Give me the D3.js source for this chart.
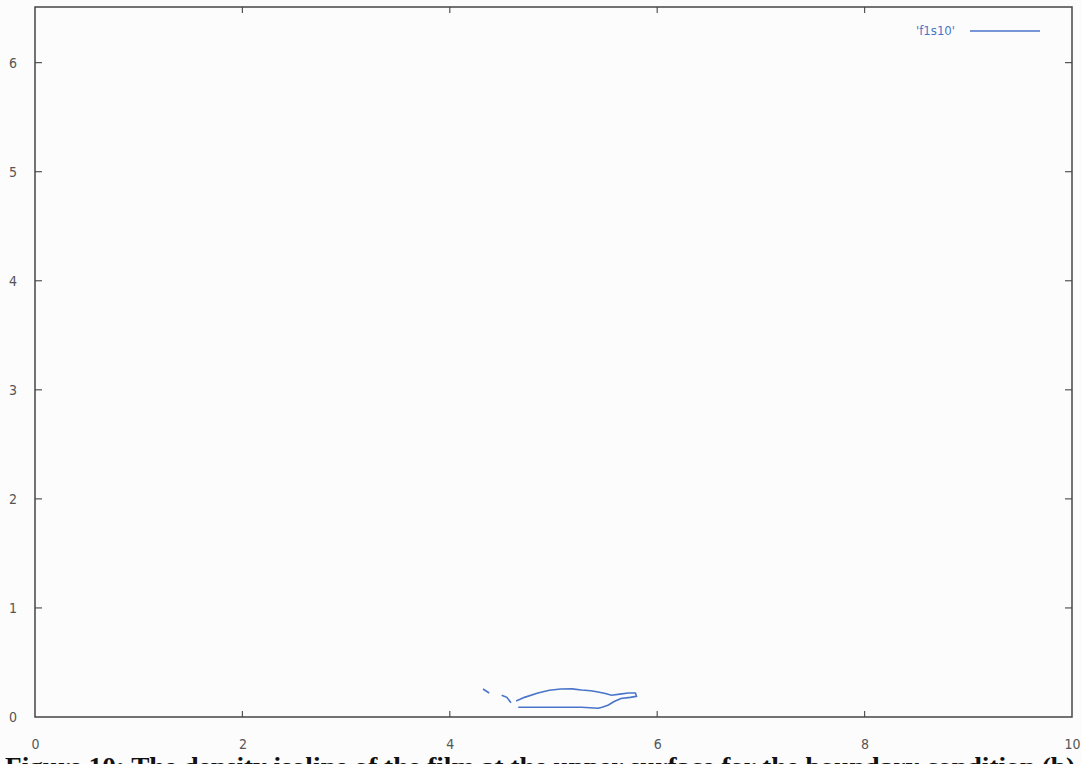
<!DOCTYPE html>
<html>
<head>
<meta charset="utf-8">
<script src="https://cdn.jsdelivr.net/npm/d3@7"></script>
<style>
  body { margin: 0; background: #fcfcfc; }
  svg { display: block; }
  .tick text { font-family: "DejaVu Sans Condensed", "DejaVu Sans", sans-serif; font-size: 14px; fill: #555; }
</style>
</head>
<body>
<div id="chart"></div>
<script>
var svgWidth = 1082;
var svgHeight = 764;

var margin = { top: 7, right: 10, bottom: 47, left: 35 };
var width = svgWidth - margin.left - margin.right;
var height = svgHeight - margin.top - margin.bottom;

// tick values
var xTicks = [0, 2, 4, 6, 8, 10];
var yTicks = [0, 1, 2, 3, 4, 5, 6];

// isoline pieces ('f1s10')
var seg1X = [4.32, 4.38];
var seg1Y = [0.257, 0.22];
var seg2X = [4.50, 4.55, 4.59];
var seg2Y = [0.20, 0.18, 0.13];
var loopX = [4.64, 4.72, 4.85, 4.96, 5.07, 5.18, 5.27, 5.36, 5.43, 5.50, 5.56, 5.64, 5.72, 5.79, 5.80, 5.74, 5.65, 5.58, 5.53, 5.47, 5.43, 5.35, 5.27, 5.10, 4.88, 4.74, 4.66];
var loopY = [0.147, 0.18, 0.22, 0.245, 0.257, 0.258, 0.248, 0.24, 0.23, 0.215, 0.20, 0.21, 0.22, 0.22, 0.19, 0.18, 0.17, 0.14, 0.11, 0.09, 0.08, 0.085, 0.09, 0.09, 0.09, 0.09, 0.09];

var seriesName = "'f1s10'";
var caption = "Figure 10: The density isoline of the film at the upper surface for the boundary condition (b)";

var svg = d3.select("#chart")
  .append("svg")
  .attr("width", svgWidth)
  .attr("height", svgHeight);

var chartGroup = svg.append("g")
  .attr("transform", `translate(${margin.left}, ${margin.top})`);

var xScale = d3.scaleLinear().domain([0, 10]).range([0, width]);
var yScale = d3.scaleLinear().domain([0, 6.51]).range([height, 0]);

// bottom axis, labels pushed well below the frame
chartGroup.append("g")
  .attr("transform", `translate(0, ${height})`)
  .call(d3.axisBottom(xScale).tickValues(xTicks).tickFormat(d3.format("d")).tickSize(0).tickPadding(22))
  .call(g => g.select(".domain").remove());

chartGroup.append("g")
  .call(d3.axisLeft(yScale).tickValues(yTicks).tickFormat(d3.format("d")).tickSize(0).tickPadding(18))
  .call(g => g.select(".domain").remove());

// inward ticks on all four sides
var tickColor = "#555";
chartGroup.selectAll(".xtb").data(xTicks.slice(1, -1)).enter().append("line")
  .attr("x1", d => xScale(d)).attr("x2", d => xScale(d))
  .attr("y1", height).attr("y2", height - 6)
  .attr("stroke", tickColor).attr("stroke-width", 1.2);
chartGroup.selectAll(".xtt").data(xTicks.slice(1, -1)).enter().append("line")
  .attr("x1", d => xScale(d)).attr("x2", d => xScale(d))
  .attr("y1", 0).attr("y2", 6)
  .attr("stroke", tickColor).attr("stroke-width", 1.2);
chartGroup.selectAll(".ytl").data(yTicks.slice(1)).enter().append("line")
  .attr("x1", 0).attr("x2", 7)
  .attr("y1", d => yScale(d)).attr("y2", d => yScale(d))
  .attr("stroke", tickColor).attr("stroke-width", 1.2);
chartGroup.selectAll(".ytr").data(yTicks.slice(1)).enter().append("line")
  .attr("x1", width).attr("x2", width - 7)
  .attr("y1", d => yScale(d)).attr("y2", d => yScale(d))
  .attr("stroke", tickColor).attr("stroke-width", 1.2);

// frame
chartGroup.append("rect")
  .attr("width", width).attr("height", height)
  .attr("fill", "none")
  .attr("stroke", "#444").attr("stroke-width", 1.5);

// isoline
var line = d3.line()
  .x(d => xScale(d[0]))
  .y(d => yScale(d[1]));

[[seg1X, seg1Y], [seg2X, seg2Y], [loopX, loopY]].forEach(function(s) {
  chartGroup.append("path")
    .datum(d3.zip(s[0], s[1]))
    .attr("d", line)
    .attr("fill", "none")
    .attr("stroke", "#4a74c9")
    .attr("stroke-width", 1.6);
});

// legend
chartGroup.append("text")
  .attr("x", 920).attr("y", 28)
  .attr("text-anchor", "end")
  .attr("font-family", "DejaVu Sans Condensed, sans-serif")
  .attr("font-size", 13)
  .attr("fill", "#4a74c9")
  .text(seriesName);
chartGroup.append("line")
  .attr("x1", 935).attr("x2", 1005)
  .attr("y1", 24).attr("y2", 24)
  .attr("stroke", "#4a74c9").attr("stroke-width", 1.4);

// caption, cut off by the bottom of the page
svg.append("text")
  .attr("x", 5).attr("y", 775)
  .attr("textLength", 1070)
  .attr("lengthAdjust", "spacingAndGlyphs")
  .attr("font-family", "Liberation Serif, serif")
  .attr("font-weight", "bold")
  .attr("font-size", 25)
  .attr("fill", "#111")
  .text(caption);
</script>
</body>
</html>
